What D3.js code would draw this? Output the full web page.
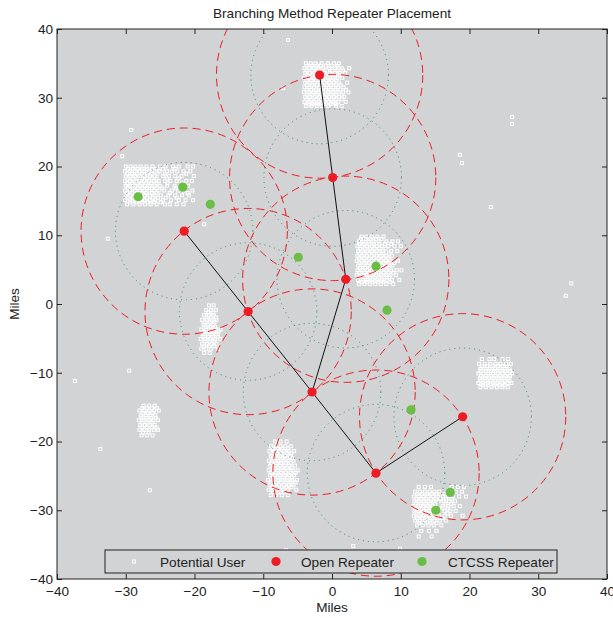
<!DOCTYPE html>
<html><head><meta charset="utf-8">
<script src="https://cdn.jsdelivr.net/npm/d3@7"></script>
<style>
body{margin:0;background:#fff}
text{font-family:"Liberation Sans",Arial,Helvetica,sans-serif;fill:#222}
</style>
</head><body>
<svg id="chart" width="613" height="618"></svg>
<script>
// ---------- data (miles) ----------
const openRepeaters = [[-1.8,33.3],[0.1,18.4],[2.0,3.6],[-21.5,10.6],[-12.2,-1.1],[-2.9,-12.8],[6.4,-24.6],[19.0,-16.4]];
const links = [[0,1],[1,2],[2,5],[3,4],[4,5],[5,6],[6,7]];
const ctcssRepeaters = [[-28.2,15.6],[-21.7,17.0],[-17.7,14.5],[-4.9,6.8],[6.4,5.5],[8.0,-0.9],[11.5,-15.4],[17.2,-27.4],[15.1,-30.0]];
const outerRadius = 15;   // red dashed coverage
const innerRadius = 10;   // dotted coverage
const xTicks = [-40,-30,-20,-10,0,10,20,30,40];
const yTicks = [-40,-30,-20,-10,0,10,20,30,40];

// user clusters: each row = [y, x1, x2, ...]
const usersTop = [
 [35.0,-3.8,-3.1,-2.4,-1.5,-0.6,0.3,1.0],
 [34.65,-3.6,-2.9,-2.2,-1.6,-0.9,-0.1,0.8],
 [34.3,-4.0,-3.3,-2.7,-2.0,-1.3,-0.4,0.5,1.4,2.5],
 [33.95,-3.7,-2.9,-2.2,-1.5,-0.7,0.0,0.8,1.6],
 [33.6,-3.9,-3.2,-2.5,-1.8,-1.1,-0.3,0.4,1.1,1.9],
 [33.25,-3.6,-2.9,-2.3,-1.6,-0.9,-0.2,0.5,1.2],
 [32.9,-4.1,-3.4,-2.7,-2.0,-1.3,-0.6,0.1,0.8,1.5],
 [32.55,-3.7,-3.0,-2.3,-1.6,-0.8,-0.1,0.6],
 [32.2,-3.9,-3.2,-2.5,-1.8,-1.1,-0.4,0.3,1.0,2.2],
 [31.85,-3.6,-2.9,-2.2,-1.5,-0.8,-0.1,0.6,1.3],
 [31.5,-4.0,-3.3,-2.6,-1.9,-1.2,-0.5,0.2,0.9,1.7],
 [31.15,-3.7,-3.0,-2.3,-1.6,-0.9,-0.2,0.5,1.2,2.0],
 [30.8,-4.1,-3.4,-2.7,-2.0,-1.3,-0.6,0.1,0.8,1.6,2.4],
 [30.45,-3.6,-2.9,-2.2,-1.5,-0.8,-0.1,0.6,1.4],
 [30.1,-3.9,-3.2,-2.5,-1.8,-1.1,-0.4,0.3,1.0,1.8],
 [29.75,-3.7,-3.0,-2.3,-1.6,-0.8,-0.1,0.6,1.5],
 [29.4,-4.0,-3.3,-2.6,-1.9,-1.2,-0.5,0.2,0.9,2.0],
 [29.1,-3.5,-2.8,-2.0,-1.1,-0.2,0.5],
 [28.8,-3.8,-3.0,-2.2,-1.4,-0.5,0.6,1.4]
];
const usersUpperLeft = [
 [20.0,-30.0,-29.3,-28.6,-27.8,-27.0,-26.1,-25.0,-24.2,-23.1,-22.3,-21.0,-20.2],
 [19.65,-29.7,-29.0,-28.3,-27.6,-26.9,-26.2,-25.5,-24.6,-22.9],
 [19.3,-30.1,-29.4,-28.7,-28.0,-27.3,-26.6,-25.9,-25.1,-24.0,-23.3,-22.5,-21.6,-20.6],
 [18.95,-29.8,-29.1,-28.4,-27.6,-26.9,-26.2,-25.4,-24.3,-21.2],
 [18.6,-30.0,-29.3,-28.6,-27.9,-27.2,-26.5,-25.8,-24.6,-23.7,-22.8,-21.9,-20.1],
 [18.25,-29.7,-29.0,-28.3,-27.6,-26.9,-26.2,-25.5,-24.0,-22.3],
 [17.9,-30.1,-29.4,-28.7,-28.0,-27.3,-26.6,-25.9,-25.2,-24.3,-23.5,-22.6,-21.2,-20.4],
 [17.55,-29.8,-29.1,-28.4,-27.7,-27.0,-26.3,-25.5,-23.9,-21.8],
 [17.2,-30.0,-29.3,-28.6,-27.9,-27.2,-26.5,-25.8,-25.0,-24.0,-22.9,-22.0,-21.0],
 [16.85,-29.7,-29.0,-28.3,-27.6,-26.9,-26.2,-25.5,-24.7,-22.7],
 [16.5,-30.1,-29.4,-28.7,-28.0,-27.3,-26.6,-25.9,-25.2,-24.4,-23.3,-22.4,-21.5,-20.3],
 [16.15,-29.8,-29.1,-28.4,-27.7,-27.0,-26.2,-25.5,-23.6,-21.0],
 [15.8,-30.0,-29.3,-28.6,-27.9,-27.2,-26.5,-25.8,-24.9,-23.8,-22.8,-21.8,-20.8],
 [15.45,-29.7,-29.0,-28.3,-27.6,-26.9,-26.1,-25.3,-24.2,-22.6],
 [15.1,-30.1,-29.4,-28.7,-28.0,-27.3,-26.5,-25.7,-24.6,-23.4,-22.3,-21.3,-20.2],
 [14.8,-29.4,-28.5,-27.6,-26.8,-25.9,-24.9],
 [14.5,-29.8,-28.9,-28.0,-27.2,-26.4,-25.5,-24.3,-23.6,-22.6,-21.6]
];
const usersMiddle = [
 [9.8,4.3,5.0,5.8,6.6,7.5],
 [9.45,4.2,4.9,5.6,6.4,7.2],
 [9.1,3.9,4.6,5.3,6.0,6.8,7.9,8.8,9.6],
 [8.75,4.0,4.7,5.4,6.1,6.9,7.7,8.6],
 [8.4,3.7,4.4,5.1,5.8,6.5,7.3,8.2,9.1,10.0],
 [8.05,4.1,4.8,5.5,6.2,6.9,7.8],
 [7.7,3.8,4.5,5.2,5.9,6.6,7.4,8.6,9.5],
 [7.35,4.0,4.7,5.4,6.1,6.8,7.5,8.3],
 [7.0,3.7,4.4,5.1,5.8,6.5,7.2,7.9,8.7],
 [6.65,4.0,4.7,5.4,6.1,6.8,7.5,8.2],
 [6.3,3.6,4.3,5.0,5.7,6.4,7.1,7.8,8.5,9.6],
 [5.95,4.0,4.7,5.4,6.1,6.8,7.5,8.2,9.0],
 [5.6,3.8,4.5,5.2,5.9,6.6,7.3,8.0,8.8],
 [5.25,4.1,4.8,5.5,6.2,6.9,7.6,8.3],
 [4.9,3.7,4.4,5.1,5.8,6.5,7.2,7.9,8.6,9.4,10.1],
 [4.55,4.0,4.7,5.4,6.1,6.8,7.5,8.2,8.9],
 [4.2,3.6,4.3,5.0,5.7,6.4,7.1,7.8,8.5,9.3],
 [3.85,4.1,4.8,5.5,6.2,6.9,7.6,8.3],
 [3.5,3.8,4.5,5.2,5.9,6.6,7.3,8.0,8.7,9.8],
 [3.2,4.3,5.1,5.9,6.7,7.5,8.4],
 [2.9,3.9,4.7,5.5,6.3,7.1,7.9,8.9]
];
const usersLeftMiddle = [
 [-0.2,-17.9,-17.2],
 [-0.9,-18.3,-17.6,-16.9],
 [-1.25,-18.0,-17.3],
 [-1.6,-18.6,-17.9,-17.2],
 [-1.95,-18.3,-17.6,-16.9],
 [-2.3,-18.9,-18.2,-17.5,-16.8],
 [-2.65,-18.5,-17.8,-17.1],
 [-3.0,-18.7,-18.0,-17.3],
 [-3.35,-18.4,-17.7,-17.0],
 [-3.7,-19.0,-18.3,-17.6,-16.9,-16.2],
 [-4.05,-18.6,-17.9,-17.2,-16.5],
 [-4.4,-18.8,-18.1,-17.4,-16.7],
 [-4.75,-18.7,-18.0,-17.3,-16.6],
 [-5.1,-19.1,-18.4,-17.7,-17.0,-16.3],
 [-5.45,-18.5,-17.8,-17.1],
 [-5.8,-18.9,-18.2,-17.5,-16.8],
 [-6.15,-18.6,-17.9,-17.2],
 [-6.5,-19.0,-18.3,-17.6,-16.6],
 [-7.1,-18.6,-17.8]
];
const usersRight = [
 [-8.0,21.8,22.9,23.6,24.8,25.6],
 [-8.7,21.4,22.2,23.0,23.8,24.5,25.3,26.0],
 [-9.05,21.8,22.6,23.4,24.1,24.8,25.5],
 [-9.4,21.6,22.3,23.0,23.7,24.4,25.1,25.8],
 [-9.75,21.6,22.4,23.1,23.8,24.5,25.2,25.9],
 [-10.1,21.3,22.0,22.7,23.4,24.1,24.8,25.5,26.2],
 [-10.45,21.7,22.4,23.1,23.8,24.5,25.2,25.9],
 [-10.8,21.5,22.2,22.9,23.6,24.3,25.0,25.7],
 [-11.15,21.6,22.3,23.0,23.7,24.4,25.1,25.8],
 [-11.5,21.3,22.0,22.7,23.4,24.1,24.8,25.5,26.1],
 [-11.8,21.9,22.7,23.5,24.3,25.1],
 [-12.1,21.6,22.4,23.2,24.0,24.8,25.6]
];
const usersLowerLeft = [
 [-14.8,-27.4,-26.6,-25.8],
 [-15.15,-27.6,-26.9,-26.2,-25.5],
 [-15.5,-28.0,-27.3,-26.6,-25.9,-25.2],
 [-15.85,-27.5,-26.8,-26.1],
 [-16.2,-27.8,-27.1,-26.4,-25.7],
 [-16.55,-27.7,-27.0,-26.3,-25.6],
 [-16.9,-28.1,-27.4,-26.7,-26.0,-25.3],
 [-17.25,-27.6,-26.9,-26.2],
 [-17.6,-27.9,-27.2,-26.5,-25.8],
 [-17.95,-27.6,-26.9,-26.2,-25.5],
 [-18.3,-28.0,-27.3,-26.6,-25.9,-25.3],
 [-18.7,-27.5,-26.7],
 [-19.1,-27.7,-26.9,-26.1]
];
const usersBottom = [
 [-20.0,-8.3,-7.5,-6.6],
 [-20.7,-8.9,-8.2,-7.5,-6.8,-6.0],
 [-21.05,-8.6,-7.9,-7.2,-6.4],
 [-21.4,-9.1,-8.4,-7.7,-7.0,-6.3,-5.5],
 [-21.75,-8.7,-8.0,-7.3,-6.6,-5.9],
 [-22.1,-8.9,-8.2,-7.5,-6.8,-6.1],
 [-22.45,-8.6,-7.9,-7.2,-6.5,-5.8],
 [-22.8,-9.2,-8.5,-7.8,-7.1,-6.4,-5.6],
 [-23.15,-8.8,-8.1,-7.4,-6.7,-6.0],
 [-23.5,-9.0,-8.3,-7.6,-6.9,-6.2,-5.4],
 [-23.85,-8.6,-7.9,-7.2,-6.5,-5.8],
 [-24.2,-9.2,-8.5,-7.8,-7.1,-6.4,-5.7,-5.0],
 [-24.55,-8.8,-8.1,-7.4,-6.7,-6.0,-5.3],
 [-24.9,-9.0,-8.3,-7.6,-6.9,-6.2,-5.5],
 [-25.25,-8.6,-7.9,-7.2,-6.5,-5.8],
 [-25.6,-9.3,-8.6,-7.9,-7.2,-6.5,-5.8,-5.1],
 [-25.95,-8.8,-8.1,-7.4,-6.7,-6.0,-5.3],
 [-26.3,-9.1,-8.4,-7.7,-7.0,-6.3,-5.6],
 [-26.65,-8.7,-8.0,-7.3,-6.6,-5.9],
 [-27.0,-9.2,-8.5,-7.8,-7.1,-6.4,-5.2],
 [-27.4,-8.6,-7.8,-7.0],
 [-27.8,-8.9,-8.1,-7.3,-6.4]
];
const usersBottomRight = [
 [-26.6,12.6,13.5,14.4,17.4,18.3,19.2],
 [-27.3,12.1,12.8,13.5,14.2,14.9,15.6,18.0,18.9],
 [-27.65,12.4,13.1,13.8,14.5,15.2,16.4,17.3],
 [-28.0,11.9,12.6,13.3,14.0,14.7,15.4,16.1,16.8,17.6,18.5,19.5],
 [-28.35,12.3,13.0,13.7,14.4,15.1,15.8,16.6,17.4],
 [-28.7,12.0,12.7,13.4,14.1,14.8,15.5,16.2,17.0,17.9],
 [-29.05,12.2,12.9,13.6,14.3,15.0,16.5,17.3],
 [-29.4,11.8,12.5,13.2,13.9,14.6,16.1,16.9,17.7,18.6],
 [-29.75,12.3,13.0,13.7,14.4,16.0,16.8],
 [-30.1,12.0,12.7,13.4,14.1,16.4,17.2,18.0],
 [-30.45,12.2,12.9,13.6,14.3,15.2,16.8],
 [-30.8,11.9,12.6,13.3,14.0,14.8,15.6,16.4,17.3,19.0],
 [-31.15,12.4,13.1,13.8,14.5,15.3,16.0],
 [-31.5,12.1,12.8,13.5,14.2,14.9,15.7,16.6],
 [-31.85,12.7,13.5,14.3,15.2],
 [-32.2,12.4,13.2,14.0,14.8,15.9],
 [-33.0,13.0,14.1,15.2],
 [-33.8,12.6,14.5]
];
const usersScattered = [[-29.2,25.3],[-30.5,21.5],[-32.6,9.5],[-18.6,11.6],[-6.4,38.4],[-7.1,31.4],
 [26.2,27.2],[26.2,26.2],[18.6,21.7],[18.9,20.5],[23.1,14.1],[34.0,1.2],[34.8,3.0],[-29.5,-9.7],
 [-37.4,-11.2],[-33.7,-21.1],[-26.5,-27.1],[9.9,-35.6],[-6.7,-35.8],[3.1,-35.2]];

const legendLabels = ["Potential User","Open Repeater","CTCSS Repeater"];

// ---------- build ----------
const users = [];
[usersTop,usersUpperLeft,usersMiddle,usersLeftMiddle,usersRight,usersLowerLeft,usersBottom,usersBottomRight]
  .forEach(cl => cl.forEach(row => row.slice(1).forEach(x => users.push([x,row[0]]))));
usersScattered.forEach(p => users.push(p));

const svg = d3.select("#chart");
const x = d3.scaleLinear().domain([-40,40]).range([57,607]);
const y = d3.scaleLinear().domain([-40,40]).range([579,29]);
const BG = "#d1d3d4", RED = "#ed1c24", GREEN = "#6abd45", TEAL = "#2a8a70";
const FS = "13.6px";

svg.append("defs").append("clipPath").attr("id","clip")
  .append("rect").attr("x",57).attr("y",29).attr("width",550).attr("height",550);

svg.append("rect").attr("x",57).attr("y",29).attr("width",550).attr("height",550).attr("fill",BG);

const plot = svg.append("g").attr("clip-path","url(#clip)");

// users
plot.append("g").selectAll("rect").data(users).join("rect")
  .attr("x",d=>x(d[0])-1.5).attr("y",d=>y(d[1])-1.5)
  .attr("width",3).attr("height",3)
  .attr("fill","none").attr("stroke","#fff").attr("stroke-width",1);

const rIn = x(innerRadius)-x(0), rOut = x(outerRadius)-x(0);
// dotted inner circles
plot.append("g").selectAll("circle").data(openRepeaters).join("circle")
  .attr("cx",d=>x(d[0])).attr("cy",d=>y(d[1])).attr("r",rIn)
  .attr("fill","none").attr("stroke",TEAL).attr("stroke-width",1).attr("stroke-dasharray","1,4");
// dashed outer circles
plot.append("g").selectAll("circle").data(openRepeaters).join("circle")
  .attr("cx",d=>x(d[0])).attr("cy",d=>y(d[1])).attr("r",rOut)
  .attr("fill","none").attr("stroke",RED).attr("stroke-width",1).attr("stroke-dasharray","8,5");

// links
plot.append("g").selectAll("line").data(links).join("line")
  .attr("x1",d=>x(openRepeaters[d[0]][0])).attr("y1",d=>y(openRepeaters[d[0]][1]))
  .attr("x2",d=>x(openRepeaters[d[1]][0])).attr("y2",d=>y(openRepeaters[d[1]][1]))
  .attr("stroke","#111").attr("stroke-width",1);

// markers
plot.append("g").selectAll("circle").data(ctcssRepeaters).join("circle")
  .attr("cx",d=>x(d[0])).attr("cy",d=>y(d[1])).attr("r",4.6).attr("fill",GREEN);
plot.append("g").selectAll("circle").data(openRepeaters).join("circle")
  .attr("cx",d=>x(d[0])).attr("cy",d=>y(d[1])).attr("r",4.6).attr("fill",RED);

// axes
function style(g){ g.select(".domain").remove(); g.selectAll(".tick line").attr("stroke","#222");
  g.selectAll("text").style("font-size",FS).attr("fill","#222"); }
svg.append("g").attr("transform","translate(0,579)")
  .call(d3.axisBottom(x).tickValues(xTicks).tickSizeInner(-5).tickSizeOuter(0).tickPadding(7)).call(style);
svg.append("g").attr("transform","translate(0,29)")
  .call(d3.axisTop(x).tickValues(xTicks).tickSizeInner(-5).tickSizeOuter(0).tickFormat("")).call(style);
svg.append("g").attr("transform","translate(57,0)")
  .call(d3.axisLeft(y).tickValues(yTicks).tickSizeInner(-5).tickSizeOuter(0).tickPadding(4)).call(style);
svg.append("g").attr("transform","translate(607,0)")
  .call(d3.axisRight(y).tickValues(yTicks).tickSizeInner(-5).tickSizeOuter(0).tickFormat("")).call(style);

svg.append("rect").attr("x",57).attr("y",29).attr("width",550).attr("height",550)
  .attr("fill","none").attr("stroke","#222").attr("stroke-width",1);

// legend
const lg = svg.append("g");
lg.append("rect").attr("x",105).attr("y",550).attr("width",452).attr("height",23)
  .attr("fill",BG).attr("stroke","#222").attr("stroke-width",1);
lg.append("rect").attr("x",132.5).attr("y",560).attr("width",3).attr("height",3)
  .attr("fill","none").attr("stroke","#fff");
lg.append("circle").attr("cx",276).attr("cy",561.5).attr("r",4.6).attr("fill",RED);
lg.append("circle").attr("cx",422).attr("cy",561.5).attr("r",4.6).attr("fill",GREEN);
[160,301,448].forEach((tx,i)=>{
  lg.append("text").attr("x",tx).attr("y",566.5).style("font-size",FS).text(legendLabels[i]);
});

// titles
svg.append("text").attr("x",332).attr("y",18).attr("text-anchor","middle").style("font-size",FS)
  .text("Branching Method Repeater Placement");
svg.append("text").attr("x",332).attr("y",612).attr("text-anchor","middle").style("font-size",FS).text("Miles");
svg.append("text").attr("transform","translate(19,304) rotate(-90)").attr("text-anchor","middle")
  .style("font-size",FS).text("Miles");
</script>
</body></html>
